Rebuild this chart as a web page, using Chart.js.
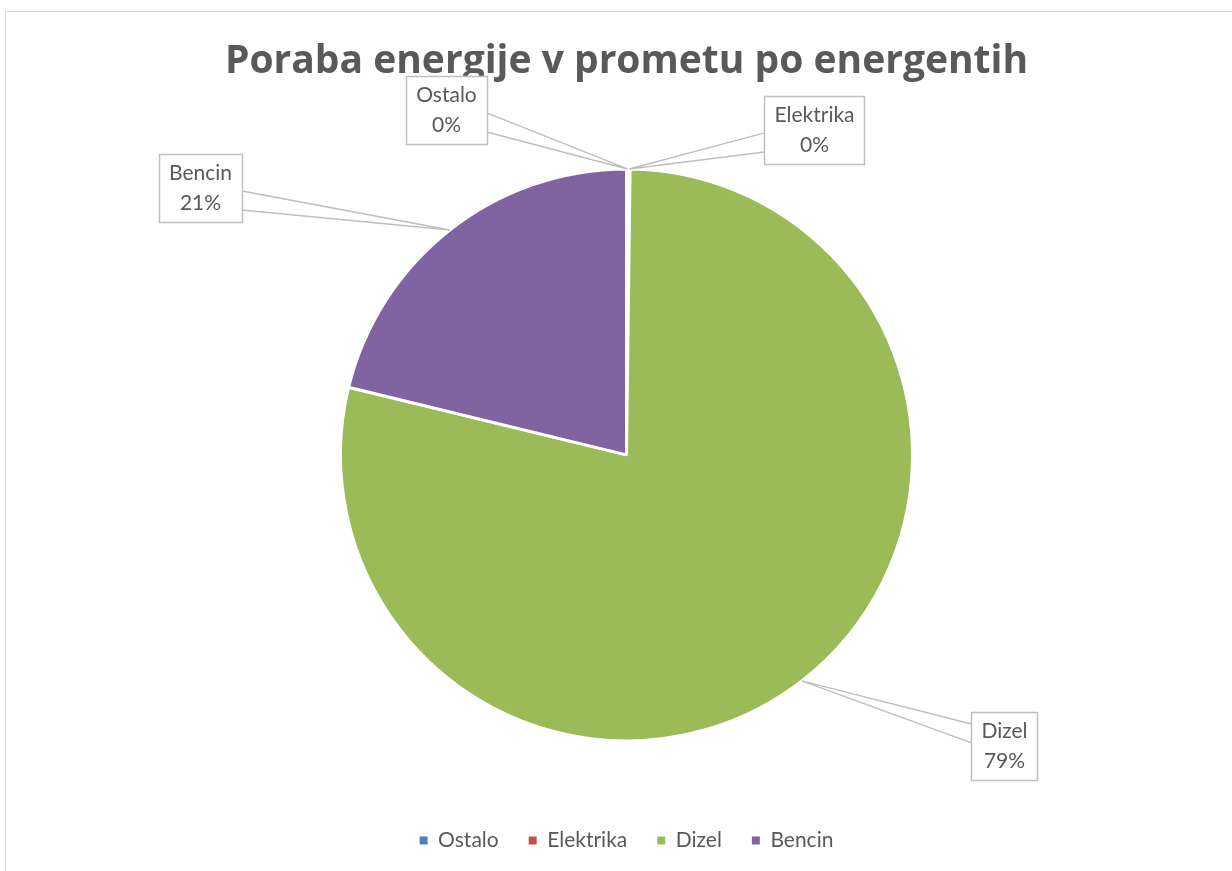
<!DOCTYPE html>
<html>
<head>
<meta charset="utf-8">
<script src="https://cdn.jsdelivr.net/npm/chart.js@4.4.1/dist/chart.umd.min.js"></script>
<style>
    html, body { margin: 0; padding: 0; background: #fff; }
    #wrap { width: 1232px; height: 871px; position: relative; }
</style>
</head>
<body>
<div id="wrap"><canvas id="energyChart"></canvas></div>
<script>
const chartTitle = "Poraba energije v prometu po energentih";
const labels = ["Ostalo", "Elektrika", "Dizel", "Bencin"];
const values = [0.1, 0.1, 78.6, 21.2];
const colors = ["#4F81BD", "#C0504D", "#9BBB59", "#8064A2"];

// callout box centres, relative to the pie centre
const calloutOffsets = [[-180, -345], [188, -325], [378, 291], [-426, -267]];

const textColor = "#595959";
const lineColor = "#bfbfbf";
const fontFamily = "Lato, 'Open Sans', sans-serif";

const framePlugin = {
    id: "frame",
    beforeDraw(chart) {
        const ctx = chart.ctx;
        ctx.save();
        ctx.fillStyle = "#fff";
        ctx.fillRect(0, 0, chart.width, chart.height);
        ctx.strokeStyle = "#d9d9d9";
        ctx.lineWidth = 1;
        ctx.strokeRect(5.5, 11.5, chart.width + 20, chart.height + 20);
        ctx.restore();
    }
};

const calloutPlugin = {
    id: "callouts",
    afterDatasetsDraw(chart) {
        const ctx = chart.ctx;
        const arcs = chart.getDatasetMeta(0).data;
        const total = values.reduce((a, b) => a + b, 0);
        ctx.save();
        ctx.font = "21px " + fontFamily;
        arcs.forEach((arc, i) => {
            const p = arc.getProps(["x", "y", "startAngle", "endAngle", "outerRadius"], true);
            const mid = (p.startAngle + p.endAngle) / 2;
            const ax = p.x + Math.cos(mid) * p.outerRadius;
            const ay = p.y + Math.sin(mid) * p.outerRadius;

            const line1 = labels[i];
            const line2 = Math.round(values[i] / total * 100) + "%";
            const w = Math.max(ctx.measureText(line1).width, ctx.measureText(line2).width) + 20;
            const h = 68;
            const cx = p.x + calloutOffsets[i][0];
            const cy = p.y + calloutOffsets[i][1];
            const left = cx - w / 2, right = cx + w / 2, top = cy - h / 2;

            // wedge from the slice to the box
            const bx = ax > cx ? right : left;
            const s = ay > cy ? 1 : -1;
            const b1 = cy + s * 3, b2 = cy + s * 22;
            ctx.beginPath();
            ctx.moveTo(bx, b1);
            ctx.lineTo(ax, ay);
            ctx.lineTo(bx, b2);
            ctx.closePath();
            ctx.fillStyle = "#fff";
            ctx.fill();
            ctx.beginPath();
            ctx.moveTo(bx, b1);
            ctx.lineTo(ax, ay);
            ctx.lineTo(bx, b2);
            ctx.strokeStyle = lineColor;
            ctx.lineWidth = 1.5;
            ctx.stroke();

            ctx.fillStyle = "#fff";
            ctx.fillRect(left, top, w, h);
            ctx.strokeRect(Math.round(left) + 0.5, Math.round(top) + 0.5, Math.round(w), h);

            ctx.fillStyle = textColor;
            ctx.textAlign = "center";
            ctx.textBaseline = "middle";
            ctx.fillText(line1, cx, cy - 15);
            ctx.fillText(line2, cx, cy + 15);
        });
        ctx.restore();
    }
};

new Chart(document.getElementById("energyChart"), {
    type: "pie",
    data: {
        labels: labels,
        datasets: [{
            data: values,
            backgroundColor: colors,
            borderColor: "#fff",
            borderWidth: 3
        }]
    },
    options: {
        responsive: true,
        maintainAspectRatio: false,
        animation: false,
        radius: 286,
        layout: { padding: { left: 21, right: 0, top: 0, bottom: 10 } },
        plugins: {
            title: {
                display: true,
                text: chartTitle,
                color: textColor,
                font: { family: "'Open Sans', Lato, sans-serif", size: 39, weight: "bold" },
                padding: { top: 38, bottom: 25 }
            },
            legend: {
                position: "bottom",
                labels: {
                    boxWidth: 8,
                    boxHeight: 8,
                    padding: 30,
                    color: textColor,
                    font: { family: fontFamily, size: 21 },
                    generateLabels: () => labels.map((t, i) => ({
                        text: t,
                        fillStyle: colors[i],
                        strokeStyle: colors[i],
                        lineWidth: 0,
                        hidden: false,
                        index: i,
                        fontColor: textColor
                    }))
                }
            },
            tooltip: { enabled: false }
        }
    },
    plugins: [framePlugin, calloutPlugin]
});
</script>
</body>
</html>
